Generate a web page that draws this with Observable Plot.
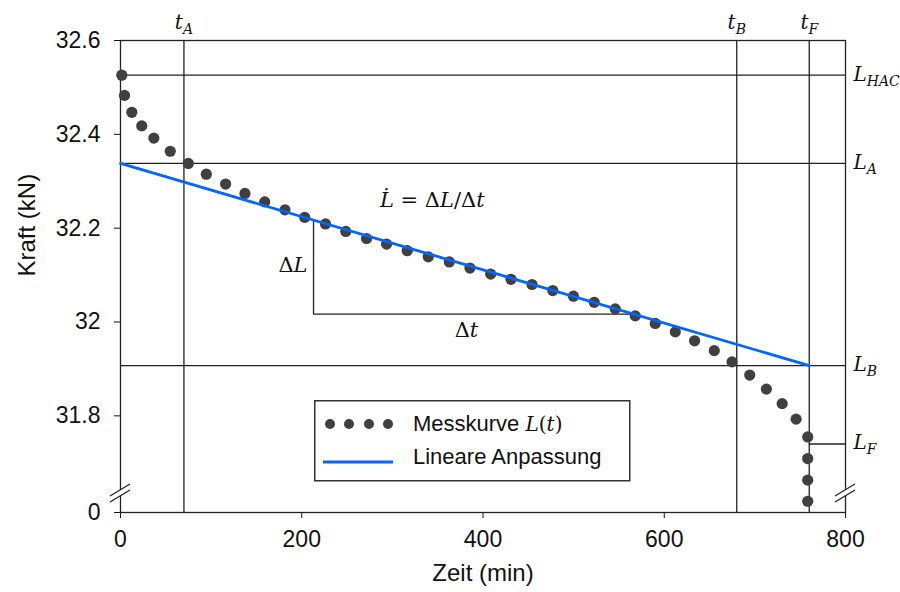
<!DOCTYPE html>
<html><head><meta charset="utf-8">
<script src="https://cdn.jsdelivr.net/npm/d3@7"></script>
<script src="https://cdn.jsdelivr.net/npm/@observablehq/plot@0.6"></script>
<style>
body{margin:0;background:#fff;}
#wrap{position:relative;width:900px;height:592px;}
#legend{position:absolute;left:314px;top:400px;}
</style></head><body><div id="wrap"></div>
<script>
// Messkurve L(t): time (min) and force (kN)
const tMin = [1.4, 4.4, 12.5, 23.5, 36.8, 54.9, 74.8, 94.7, 116, 137.3, 159.1, 181.5, 203.3, 226.2, 248.6, 271.5, 293.6, 316.4, 339.6, 362.8, 385.6, 408.5, 430.9, 454.1, 477, 499.8, 522.7, 545.9, 568, 590.1, 612.2, 633.5, 655.2, 674.8, 694.3, 712.7, 730.1, 745.5, 758.3, 758.3, 758.3, 758.3];
const kraft = [32.526, 32.483, 32.447, 32.418, 32.392, 32.364, 32.338, 32.315, 32.294, 32.274, 32.256, 32.239, 32.223, 32.209, 32.193, 32.178, 32.166, 32.152, 32.139, 32.128, 32.115, 32.102, 32.091, 32.080, 32.067, 32.055, 32.042, 32.028, 32.013, 31.997, 31.979, 31.960, 31.939, 31.915, 31.887, 31.857, 31.826, 31.793, 31.755, 31.709, 31.663, 31.618];
// Lineare Anpassung
const fitT = [0, 760];
const fitL = [32.338, 31.907];
// Markers
const markerNames = ["t_A", "t_B", "t_F"];
const markerT = [70, 680, 760];
const levelNames = ["L_HAC", "L_A", "L_B", "L_F"];
const levelValues = [32.526, 32.338, 31.907, 31.740];
// Slope triangle
const slopeT = [213, 213, 566];
const slopeL = [32.217, 32.017, 32.017];
// Annotations
const noteText = ["ΔL", "Δt", "L\u0307 = ΔL/Δt"];
const noteT = [213, 389.5, 344];
const noteL = [32.117, 32.017, 32.26];
// Axes
const xDomain = [0, 800];
const xTicks = [0, 200, 400, 600, 800];
const yTicks = [31.8, 32, 32.2, 32.4, 32.6];
const yBreakValue = 31.594;   // broken axis bottom, labelled "0"
const yBreakLabel = "0";

const points = tMin.map((t, i) => ({t, L: kraft[i]}));
const fit = fitT.map((t, i) => ({t, L: fitL[i]}));
const slope = slopeT.map((t, i) => ({t, L: slopeL[i]}));

const ink = "#222";
const mathFont = "DejaVu Serif";
const M = {fontFamily: mathFont, fontSize: 20, ariaDescription: "math"};
const M2 = {fontFamily: mathFont, fontSize: 21, ariaDescription: "math"};

const plot = Plot.plot({
  width: 900, height: 592,
  marginLeft: 120, marginRight: 55, marginTop: 40, marginBottom: 80,
  style: {fontFamily: "'Liberation Sans', Arial, sans-serif", fontSize: "23px", color: "#111", background: "#fff"},
  x: {domain: xDomain, ticks: xTicks, tickSize: 6, tickPadding: 12, label: null},
  y: {domain: [yBreakValue, yTicks[yTicks.length - 1]], ticks: [yBreakValue, ...yTicks], tickSize: 6, tickPadding: 14, label: null,
      tickFormat: d => d === yBreakValue ? yBreakLabel : String(+d.toFixed(1))},
  marks: [
    Plot.ruleX(markerT, {x: d => d, stroke: ink, strokeWidth: 1.3}),
    Plot.ruleY(levelValues.slice(0, 3), {y: d => d, stroke: ink, strokeWidth: 1.3}),
    Plot.ruleY([levelValues[3]], {y: d => d, x1: markerT[2], x2: xDomain[1], stroke: ink, strokeWidth: 1.3}),
    Plot.line(slope, {x: "t", y: "L", stroke: ink, strokeWidth: 1.3}),
    Plot.frame({stroke: ink, strokeWidth: 1.3}),
    Plot.dot(points, {x: "t", y: "L", r: 5.6, fill: "#404040", stroke: "none"}),
    Plot.line(fit, {x: "t", y: "L", stroke: "#0066ff", strokeWidth: 2.8}),
    Plot.text(markerT, {...M, x: d => d, frameAnchor: "top", text: (d, i) => markerNames[i], dy: -26}),
    Plot.text(levelValues, {...M, y: d => d, frameAnchor: "right", text: (d, i) => levelNames[i], textAnchor: "start", dx: 8, dy: -1}),
    Plot.text([0], {...M2, x: () => noteT[0], y: () => noteL[0], text: () => noteText[0], textAnchor: "end", dx: -6, dy: -2}),
    Plot.text([1], {...M2, x: () => noteT[1], y: () => noteL[1], text: () => noteText[1], dx: -7, dy: 16}),
    Plot.text([2], {...M2, x: () => noteT[2], y: () => noteL[2], text: () => noteText[2]}),
    Plot.text(["Kraft (kN)"], {frameAnchor: "left", rotate: -90, dx: -93, fontSize: 24}),
    Plot.text(["Zeit (min)"], {frameAnchor: "bottom", dy: 68, fontSize: 24})
  ]
});

// mixed italic/upright math labels with subscripts
d3.select(plot).selectAll('[aria-description="math"] text').each(function () {
  const s = this.textContent;
  const [main, sub] = s.split("_");
  this.textContent = "";
  const sel = d3.select(this);
  (main.match(/[A-Za-z]\u0307?|[^A-Za-z]+/g) || []).forEach(tok => {
    sel.append("tspan").attr("font-style", /[A-Za-z]/.test(tok) ? "italic" : "normal").text(tok);
  });
  if (sub) sel.append("tspan").attr("font-style", "italic").attr("font-size", "14px").attr("dy", "0.35em").text(sub);
});

// axis break marks
const ys = plot.scale("y"), xs = plot.scale("x");
const yPx = d3.scaleLinear(ys.domain, ys.range);
const xPx = d3.scaleLinear(xs.domain, xs.range);
const svg = d3.select(plot);
const yb = yPx(yBreakValue) - 19;
[xPx(xDomain[0]), xPx(xDomain[1])].forEach(xb => {
  const g = svg.append("g");
  g.append("path").attr("d", `M${xb-10},${yb+9}L${xb+10},${yb-3}L${xb+10},${yb-9}L${xb-10},${yb+3}Z`).attr("fill", "#fff");
  g.append("path").attr("d", `M${xb-10},${yb+9}L${xb+10},${yb-3}M${xb-10},${yb+3}L${xb+10},${yb-9}`).attr("stroke", ink).attr("stroke-width", 1.3).attr("fill", "none");
});

document.getElementById("wrap").appendChild(plot);

// legend overlay
const legendDots = [16, 35, 55, 74];
const lg = d3.select("#wrap").append("svg").attr("id", "legend").attr("width", 317).attr("height", 82)
  .style("font-family", "'Liberation Sans', Arial, sans-serif").style("font-size", "22px");
lg.append("rect").attr("x", 0.75).attr("y", 0.75).attr("width", 315).attr("height", 80).attr("fill", "#fff").attr("stroke", "#333").attr("stroke-width", 1.5);
lg.selectAll("circle").data(legendDots).join("circle").attr("cx", d => d).attr("cy", 24).attr("r", 5).attr("fill", "#404040");
lg.append("line").attr("x1", 9).attr("x2", 79).attr("y1", 62).attr("y2", 62).attr("stroke", "#0066ff").attr("stroke-width", 2.8);
const t1 = lg.append("text").attr("x", 99).attr("y", 31).attr("fill", "#111");
t1.append("tspan").text("Messkurve ");
t1.append("tspan").attr("font-family", mathFont).attr("font-size", "20px").attr("font-style", "italic").text("L");
t1.append("tspan").attr("font-family", mathFont).attr("font-size", "20px").text("(");
t1.append("tspan").attr("font-family", mathFont).attr("font-size", "20px").attr("font-style", "italic").text("t");
t1.append("tspan").attr("font-family", mathFont).attr("font-size", "20px").text(")");
lg.append("text").attr("x", 99).attr("y", 64).attr("fill", "#111").text("Lineare Anpassung");
</script>
</body></html>
